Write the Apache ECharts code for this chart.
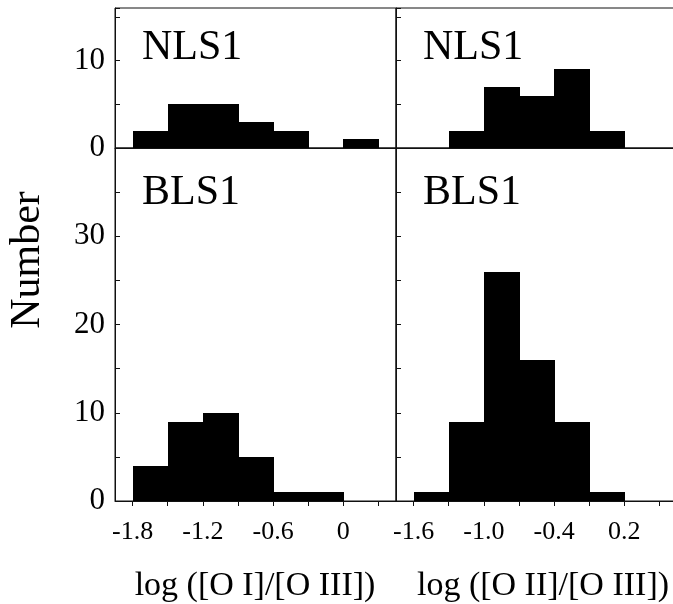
<!DOCTYPE html>
<html>
<head>
<meta charset="utf-8">
<script src="https://cdn.jsdelivr.net/npm/echarts@6/dist/echarts.min.js"></script>
<style>
html,body{margin:0;padding:0;background:#fff;}
#chart{width:673px;height:604px;}
</style>
</head>
<body>
<div id="chart"></div>
<script>
// ---- data ----
var binWidth = 0.3;
var oiBinStarts = [-1.8, -1.5, -1.2, -0.9, -0.6, -0.3, 0.0];
var nls1OI = [2, 5, 5, 3, 2, 0, 1];
var bls1OI = [4, 9, 10, 5, 1, 1, 0];
var oiiBinStarts = [-1.6, -1.3, -1.0, -0.7, -0.4, -0.1];
var nls1OII = [0, 2, 7, 6, 9, 2];
var bls1OII = [1, 9, 26, 16, 9, 1];

var oiTicks = [-1.8, -1.5, -1.2, -0.9, -0.6, -0.3, 0, 0.3];
var oiLabels = [-1.8, -1.2, -0.6, 0];
var oiiTicks = [-1.6, -1.3, -1.0, -0.7, -0.4, -0.1, 0.2, 0.5];
var oiiLabels = [-1.6, -1.0, -0.4, 0.2];

var panelNames = ['NLS1', 'NLS1', 'BLS1', 'BLS1'];
var yTitle = 'Number';
var xTitles = ['log ([O I]/[O III])', 'log ([O II]/[O III])'];

// ---- chart ----
var FONT = "'Liberation Serif','Times New Roman',serif";
var chart = echarts.init(document.getElementById('chart'), null, {renderer: 'canvas'});

function toData(starts, counts) {
  return starts.map(function (s, i) { return [s, s + binWidth, counts[i]]; });
}

function renderBar(params, api) {
  if (api.value(2) <= 0) return null;
  var p0 = api.coord([api.value(0), api.value(2)]);
  var p1 = api.coord([api.value(1), 0]);
  var x0 = Math.round(p0[0]), x1 = Math.round(p1[0]);
  var y0 = Math.round(p0[1]), y1 = Math.round(p1[1]);
  return {
    type: 'rect',
    shape: {x: x0, y: y0, width: x1 - x0 + 1, height: y1 - y0},
    style: {fill: '#000'}
  };
}

var lineStyle = {color: '#111', width: 1};

function xAxisCfg(gi, min, max, ticks, labels, showLabels) {
  return {
    type: 'value', gridIndex: gi, min: min, max: max,
    splitLine: {show: false},
    axisLine: {show: true, onZero: false, lineStyle: lineStyle},
    axisTick: {show: showLabels, inside: false, length: 5, lineStyle: lineStyle, customValues: ticks},
    axisLabel: {
      show: showLabels, customValues: labels, margin: 18,
      color: '#000', fontFamily: FONT, fontSize: 26,
      formatter: function (v) { return Math.abs(v) < 1e-9 ? '0' : v.toFixed(1); }
    }
  };
}

function yAxisCfg(gi, max, showLabels) {
  return {
    type: 'value', gridIndex: gi, min: 0, max: max, interval: 5,
    splitLine: {show: false},
    axisLine: {show: true, onZero: false, lineStyle: lineStyle},
    axisTick: {show: true, inside: true, length: 5, lineStyle: lineStyle},
    axisLabel: {
      show: showLabels, margin: 10, color: '#000', fontFamily: FONT, fontSize: 31,
      formatter: function (v) { return (v % 10 === 0 && v < 40) ? String(v) : ''; }
    }
  };
}

var grids = [
  {left: 115, top: 8, width: 281, height: 140},
  {left: 396, top: 8, width: 281, height: 140},
  {left: 115, top: 148, width: 281, height: 353},
  {left: 396, top: 148, width: 281, height: 353}
].map(function (g) {
  g.show = true; g.borderColor = '#111'; g.borderWidth = 1; g.backgroundColor = 'transparent';
  g.containLabel = false; g.outerBoundsMode = 'none';
  return g;
});

var labelPos = [[142, 27], [423, 27], [142, 172], [423, 172]];

var option = {
  animation: false,
  backgroundColor: '#fff',
  grid: grids,
  xAxis: [
    xAxisCfg(0, -1.95, 0.45, oiTicks, oiLabels, false),
    xAxisCfg(1, -1.75, 0.65, oiiTicks, oiiLabels, false),
    xAxisCfg(2, -1.95, 0.45, oiTicks, oiLabels, true),
    xAxisCfg(3, -1.75, 0.65, oiiTicks, oiiLabels, true)
  ],
  yAxis: [
    yAxisCfg(0, 16, true),
    yAxisCfg(1, 16, false),
    yAxisCfg(2, 40, true),
    yAxisCfg(3, 40, false)
  ],
  series: [
    {type: 'custom', xAxisIndex: 0, yAxisIndex: 0, data: toData(oiBinStarts, nls1OI), renderItem: renderBar},
    {type: 'custom', xAxisIndex: 1, yAxisIndex: 1, data: toData(oiiBinStarts, nls1OII), renderItem: renderBar},
    {type: 'custom', xAxisIndex: 2, yAxisIndex: 2, data: toData(oiBinStarts, bls1OI), renderItem: renderBar},
    {type: 'custom', xAxisIndex: 3, yAxisIndex: 3, data: toData(oiiBinStarts, bls1OII), renderItem: renderBar}
  ],
  graphic: panelNames.map(function (n, i) {
    return {type: 'text', x: labelPos[i][0], y: labelPos[i][1], z: 100,
      style: {text: n, font: '42px ' + FONT, fill: '#000', textAlign: 'left', textVerticalAlign: 'top'}};
  }).concat([
    {type: 'text', x: 28, y: 260, rotation: Math.PI / 2, z: 100,
      style: {text: yTitle, font: '42px ' + FONT, fill: '#000', textAlign: 'center', textVerticalAlign: 'middle'}},
    {type: 'text', x: 255, y: 586, z: 100,
      style: {text: xTitles[0], font: '34px ' + FONT, fill: '#000', textAlign: 'center', textVerticalAlign: 'middle'}},
    {type: 'text', x: 543, y: 586, z: 100,
      style: {text: xTitles[1], font: '34px ' + FONT, fill: '#000', textAlign: 'center', textVerticalAlign: 'middle'}}
  ])
};
chart.setOption(option);
</script>
</body>
</html>
